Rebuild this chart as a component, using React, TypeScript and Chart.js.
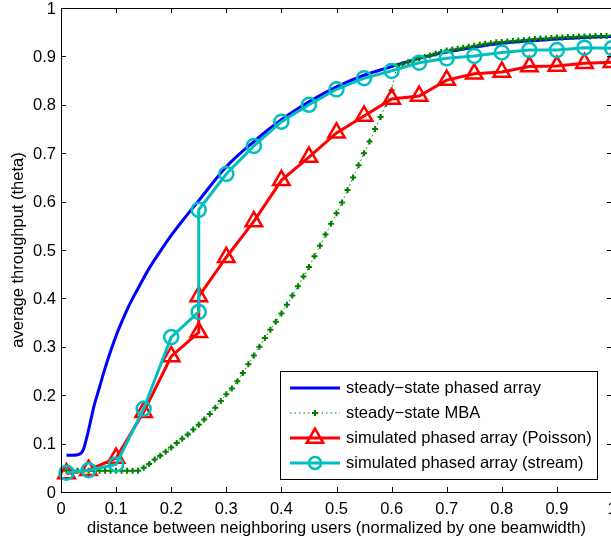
import React, { useEffect, useRef } from 'react';
import { Chart, registerables } from 'chart.js';
Chart.register(...registerables);

const FONT = '"Liberation Sans", Arial, Helvetica, sans-serif';

const tickValues = [0, 0.1, 0.2, 0.3, 0.4, 0.5, 0.6, 0.7, 0.8, 0.9, 1];
const tickLabels = ['0', '0.1', '0.2', '0.3', '0.4', '0.5', '0.6', '0.7', '0.8', '0.9', '1'];

const xTitle = 'distance between neighboring users (normalized by one beamwidth)';
const yTitle = 'average throughput (theta)';
const seriesNames = [
  'steady\u2212state phased array',
  'steady\u2212state MBA',
  'simulated phased array (Poisson)',
  'simulated phased array (stream)',
];

const phasedX = [0.01, 0.02, 0.03, 0.04, 0.05, 0.06, 0.07, 0.08, 0.09, 0.10, 0.11, 0.12, 0.13, 0.14, 0.16, 0.18, 0.20, 0.22, 0.25, 0.30, 0.35, 0.40, 0.45, 0.50, 0.55, 0.60, 0.65, 0.70, 0.75, 0.80, 0.85, 0.90, 0.95, 1.00];
const phasedY = [0.076, 0.076, 0.077, 0.086, 0.128, 0.178, 0.217, 0.256, 0.291, 0.323, 0.351, 0.377, 0.40, 0.421, 0.462, 0.497, 0.53, 0.56, 0.602, 0.672, 0.724, 0.769, 0.806, 0.837, 0.861, 0.879, 0.896, 0.909, 0.919, 0.927, 0.932, 0.936, 0.939, 0.941];

const mbaX = [
  0.01, 0.02, 0.03, 0.04, 0.05, 0.06, 0.07, 0.08, 0.09, 0.10,
  0.11, 0.12, 0.13, 0.14, 0.15, 0.16, 0.17, 0.18, 0.19, 0.20,
  0.21, 0.22, 0.23, 0.24, 0.25, 0.26, 0.27, 0.28, 0.29, 0.30,
  0.31, 0.32, 0.33, 0.34, 0.35, 0.36, 0.37, 0.38, 0.39, 0.40,
  0.41, 0.42, 0.43, 0.44, 0.45, 0.46, 0.47, 0.48, 0.49, 0.50,
  0.51, 0.52, 0.53, 0.54, 0.55, 0.56, 0.57, 0.58, 0.59, 0.60,
  0.61, 0.62, 0.63, 0.64, 0.65, 0.66, 0.67, 0.68, 0.69, 0.70,
  0.71, 0.72, 0.73, 0.74, 0.75, 0.76, 0.77, 0.78, 0.79, 0.80,
  0.81, 0.82, 0.83, 0.84, 0.85, 0.86, 0.87, 0.88, 0.89, 0.90,
  0.91, 0.92, 0.93, 0.94, 0.95, 0.96, 0.97, 0.98, 0.99, 1.00,
];
const mbaY = [
  0.044, 0.044, 0.044, 0.044, 0.044, 0.044, 0.044, 0.044, 0.044, 0.044,
  0.044, 0.044, 0.044, 0.044, 0.050, 0.058, 0.067, 0.075, 0.083, 0.092,
  0.101, 0.110, 0.119, 0.129, 0.139, 0.150, 0.161, 0.174, 0.188, 0.202,
  0.214, 0.229, 0.246, 0.264, 0.282, 0.300, 0.318, 0.335, 0.352, 0.369,
  0.387, 0.406, 0.425, 0.445, 0.465, 0.487, 0.509, 0.532, 0.554, 0.576,
  0.598, 0.624, 0.650, 0.675, 0.700, 0.724, 0.750, 0.775, 0.802, 0.830,
  0.880, 0.884, 0.888, 0.892, 0.896, 0.899, 0.902, 0.906, 0.909, 0.912,
  0.914, 0.916, 0.918, 0.920, 0.922, 0.924, 0.926, 0.927, 0.929, 0.930,
  0.931, 0.932, 0.933, 0.934, 0.935, 0.936, 0.937, 0.937, 0.938, 0.939,
  0.939, 0.940, 0.940, 0.941, 0.941, 0.941, 0.942, 0.942, 0.942, 0.943,
];

const simX = [0.01, 0.05, 0.10, 0.15, 0.20, 0.25, 0.25, 0.30, 0.35, 0.40, 0.45, 0.50, 0.55, 0.60, 0.65, 0.70, 0.75, 0.80, 0.85, 0.90, 0.95, 1.00];
const poissonY = [0.038, 0.045, 0.070, 0.165, 0.280, 0.330, 0.404, 0.485, 0.559, 0.644, 0.692, 0.742, 0.777, 0.812, 0.818, 0.851, 0.864, 0.868, 0.879, 0.880, 0.886, 0.888];
const streamY = [0.040, 0.045, 0.057, 0.172, 0.320, 0.372, 0.583, 0.657, 0.715, 0.765, 0.800, 0.832, 0.855, 0.870, 0.887, 0.896, 0.901, 0.908, 0.913, 0.913, 0.918, 0.917];

const zip = (xs: number[], ys: number[]) => xs.map((x, i) => ({ x, y: ys[i] }));

function drawMarker(ctx: CanvasRenderingContext2D, style: string, x: number, y: number, r: number, color: string, lw: number) {
  ctx.save();
  ctx.strokeStyle = color;
  ctx.lineWidth = lw;
  ctx.setLineDash([]);
  ctx.beginPath();
  if (style === 'triangle') {
    let rad = 0;
    ctx.moveTo(x + Math.sin(rad) * r, y - Math.cos(rad) * r);
    rad += (2 * Math.PI) / 3;
    ctx.lineTo(x + Math.sin(rad) * r, y - Math.cos(rad) * r);
    rad += (2 * Math.PI) / 3;
    ctx.lineTo(x + Math.sin(rad) * r, y - Math.cos(rad) * r);
    ctx.closePath();
  } else if (style === 'circle') {
    ctx.arc(x, y, r, 0, Math.PI * 2);
  } else if (style === 'cross') {
    ctx.moveTo(x - r, y);
    ctx.lineTo(x + r, y);
    ctx.moveTo(x, y - r);
    ctx.lineTo(x, y + r);
  }
  ctx.stroke();
  ctx.restore();
}

const TICK_FONT = `16.5px ${FONT}`;
const LEGEND_FONT = `16.5px ${FONT}`;

const matlabPlugin = {
  id: 'matlabAxes',
  afterDraw(chart: any) {
    const { ctx, chartArea } = chart;
    const { left, right, top, bottom } = chartArea;
    const xs = chart.scales.x;
    const ys = chart.scales.y;
    ctx.save();
    ctx.strokeStyle = '#000';
    ctx.lineWidth = 1;
    ctx.setLineDash([]);
    // box
    ctx.beginPath();
    ctx.rect(Math.round(left) + 0.5, Math.round(top) + 0.5, Math.round(right - left), Math.round(bottom - top));
    ctx.stroke();
    // inward ticks
    const tl = 5;
    ctx.beginPath();
    tickValues.forEach((v) => {
      const px = Math.round(xs.getPixelForValue(v)) + 0.5;
      ctx.moveTo(px, bottom);
      ctx.lineTo(px, bottom - tl);
      ctx.moveTo(px, top);
      ctx.lineTo(px, top + tl);
      const py = Math.round(ys.getPixelForValue(v)) + 0.5;
      ctx.moveTo(left, py);
      ctx.lineTo(left + tl, py);
      ctx.moveTo(right, py);
      ctx.lineTo(right - tl, py);
    });
    ctx.stroke();

    // tick labels
    ctx.fillStyle = '#000';
    ctx.font = TICK_FONT;
    ctx.textAlign = 'center';
    ctx.textBaseline = 'middle';
    tickValues.forEach((v, i) => {
      ctx.fillText(tickLabels[i], xs.getPixelForValue(v), bottom + 17);
    });
    ctx.textAlign = 'right';
    tickValues.forEach((v, i) => {
      ctx.fillText(tickLabels[i], left - 5, ys.getPixelForValue(v) + 1);
    });

    // axis titles
    ctx.textAlign = 'center';
    ctx.fillText(xTitle, (left + right) / 2, 528);
    ctx.save();
    ctx.translate(18, (top + bottom) / 2);
    ctx.rotate(-Math.PI / 2);
    ctx.fillText(yTitle, 0, 0);
    ctx.restore();

    // legend
    const bx = 280.5, by = 371.5, bw = 317, bh = 108;
    ctx.fillStyle = '#fff';
    ctx.fillRect(bx, by, bw, bh);
    ctx.strokeStyle = '#000';
    ctx.lineWidth = 1;
    ctx.strokeRect(bx, by, bw, bh);
    const rows = [388, 413, 438, 463];
    chart.data.datasets.forEach((ds: any, i: number) => {
      const y = rows[i];
      ctx.save();
      ctx.strokeStyle = ds.borderColor;
      ctx.lineWidth = ds.borderWidth;
      ctx.setLineDash(ds.borderDash || []);
      ctx.beginPath();
      ctx.moveTo(290, y);
      ctx.lineTo(340, y);
      ctx.stroke();
      ctx.restore();
      if (ds.pointRadius > 0) {
        const r = ds.pointStyle === 'circle' ? 6 : ds.pointRadius;
        drawMarker(ctx, ds.pointStyle, 315, y, r, ds.pointBorderColor, ds.pointBorderWidth);
      }
      ctx.fillStyle = '#000';
      ctx.font = LEGEND_FONT;
      ctx.textAlign = 'left';
      ctx.textBaseline = 'middle';
      ctx.fillText(seriesNames[i], 346, y);
    });
    ctx.restore();
  },
};

export default function App() {
  const ref = useRef<HTMLCanvasElement | null>(null);
  useEffect(() => {
    if (!ref.current) return;
    const chart = new Chart(ref.current, {
      type: 'line',
      data: {
        datasets: [
          {
            label: seriesNames[0],
            data: zip(phasedX, phasedY),
            borderColor: '#0000FF',
            borderWidth: 3,
            pointRadius: 0,
            cubicInterpolationMode: 'monotone',
            fill: false,
            clip: false,
            order: 3,
          },
          {
            label: seriesNames[1],
            data: zip(mbaX, mbaY),
            borderColor: '#008000',
            borderWidth: 1,
            borderDash: [1.5, 3],
            pointStyle: 'cross',
            pointRadius: 3,
            pointBorderWidth: 2,
            pointBorderColor: '#008000',
            pointBackgroundColor: '#008000',
            fill: false,
            clip: false,
            order: 2,
          },
          {
            label: seriesNames[2],
            data: zip(simX, poissonY),
            borderColor: '#FF0000',
            borderWidth: 3,
            pointStyle: 'triangle',
            pointRadius: 9.5,
            pointBorderWidth: 2.5,
            pointBorderColor: '#FF0000',
            pointBackgroundColor: 'rgba(0,0,0,0)',
            fill: false,
            clip: false,
            order: 1,
          },
          {
            label: seriesNames[3],
            data: zip(simX, streamY),
            borderColor: '#00BFBF',
            borderWidth: 3,
            pointStyle: 'circle',
            pointRadius: 7,
            pointBorderWidth: 2.5,
            pointBorderColor: '#00BFBF',
            pointBackgroundColor: 'rgba(0,0,0,0)',
            fill: false,
            clip: false,
            order: 0,
          },
        ] as any,
      },
      options: {
        animation: false,
        responsive: false,
        events: [],
        layout: { autoPadding: false, padding: { top: 8, right: 1, left: 0, bottom: 0 } },
        plugins: { legend: { display: false }, tooltip: { enabled: false }, title: { display: false } },
        scales: {
          x: {
            type: 'linear',
            min: 0,
            max: 1,
            grid: { display: false, drawTicks: false },
            border: { display: false },
            ticks: { display: false },
            afterFit: (s: any) => {
              s.height = 53;
            },
          },
          y: {
            type: 'linear',
            min: 0,
            max: 1,
            grid: { display: false, drawTicks: false },
            border: { display: false },
            ticks: { display: false },
            afterFit: (s: any) => {
              s.width = 61;
            },
          },
        },
      } as any,
      plugins: [matlabPlugin],
    });
    return () => chart.destroy();
  }, []);

  return (
    <div style={{ position: 'absolute', left: 0, top: 0, width: 611, height: 545, overflow: 'hidden', background: '#fff' }}>
      <canvas ref={ref} width={613} height={545} style={{ display: 'block' }} />
    </div>
  );
}
